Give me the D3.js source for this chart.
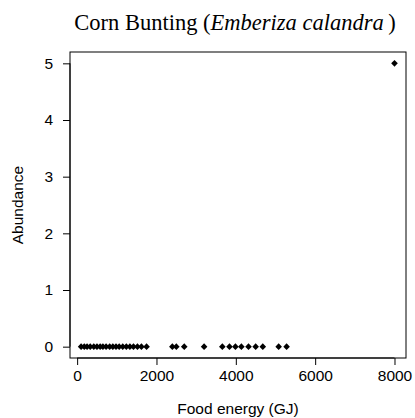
<!DOCTYPE html>
<html>
<head>
<meta charset="utf-8">
<script src="https://cdn.jsdelivr.net/npm/d3@7"></script>
<style>
  html, body { margin: 0; padding: 0; background: #fff; }
  svg { display: block; }
</style>
</head>
<body>
<svg id="chart" width="415" height="418"></svg>
<script>
// Data: food energy (GJ) and abundance
const foodEnergy = [100, 180, 250, 330, 420, 500, 580, 650, 730, 820, 900, 980, 1060, 1150, 1240, 1330, 1420, 1520, 1620, 1750,
                    2400, 2500, 2700, 3200, 3660, 3840, 3990, 4140, 4320, 4500, 4680, 5080, 5280, 8000];
const abundance = [0, 0, 0, 0, 0, 0, 0, 0, 0, 0, 0, 0, 0, 0, 0, 0, 0, 0, 0, 0,
                   0, 0, 0, 0, 0, 0, 0, 0, 0, 0, 0, 0, 0, 5];
const xTicks = [0, 2000, 4000, 6000, 8000];
const yTicks = [0, 1, 2, 3, 4, 5];

const svg = d3.select("#chart");
const mLeft = 70, mRight = 406, mTop = 52, mBottom = 358;
const sans = "Liberation Sans, Arial, sans-serif";

const x = d3.scaleLinear().domain([-180, 8290]).range([mLeft, mRight]);
const y = d3.scaleLinear().domain([-0.2, 5.2]).range([mBottom, mTop]);

// Box
svg.append("rect")
  .attr("x", mLeft).attr("y", mTop)
  .attr("width", mRight - mLeft).attr("height", mBottom - mTop)
  .attr("fill", "none").attr("stroke", "#000").attr("stroke-width", 1);

// X axis
const xAxis = d3.axisBottom(x).tickValues(xTicks).tickSize(7).tickPadding(5).tickFormat(d3.format("d"));
const gx = svg.append("g").attr("transform", `translate(0,${mBottom})`).call(xAxis);
gx.select(".domain").attr("d", `M${x(0)},0H${x(8000)}`);
gx.selectAll("text").attr("font-family", sans).attr("font-size", 15.5).attr("fill", "#000");

// Y axis
const yAxis = d3.axisLeft(y).tickValues(yTicks).tickSize(7).tickPadding(10).tickFormat(d3.format("d"));
const gy = svg.append("g").attr("transform", `translate(${mLeft},0)`).call(yAxis);
gy.select(".domain").attr("d", `M0,${y(0)}V${y(5)}`);
gy.selectAll("text").attr("font-family", sans).attr("font-size", 15.5).attr("fill", "#000");

// Points (filled diamonds)
const pts = foodEnergy.map((d, i) => ({ x: d, y: abundance[i] }));
const r = 3.3;
svg.append("g").selectAll("path").data(pts).join("path")
  .attr("d", d => {
    const cx = x(d.x), cy = y(d.y);
    return `M${cx},${cy - r}L${cx + r},${cy}L${cx},${cy + r}L${cx - r},${cy}Z`;
  })
  .attr("fill", "#000");

// Title
const title = svg.append("text")
  .attr("x", (mLeft + mRight) / 2 - 3).attr("y", 30)
  .attr("text-anchor", "middle")
  .attr("font-family", "Liberation Serif, Times New Roman, serif")
  .attr("font-size", 22.5).attr("fill", "#000");
title.append("tspan").text("Corn Bunting (");
title.append("tspan").attr("font-style", "italic").text("Emberiza calandra");
title.append("tspan").text("\u2009)");

// Axis labels
svg.append("text")
  .attr("x", (mLeft + mRight) / 2).attr("y", 414)
  .attr("text-anchor", "middle")
  .attr("font-family", sans)
  .attr("font-size", 15.5).attr("fill", "#000")
  .text("Food energy (GJ)");

svg.append("text")
  .attr("transform", `translate(23,${(mTop + mBottom) / 2}) rotate(-90)`)
  .attr("text-anchor", "middle")
  .attr("font-family", sans)
  .attr("font-size", 15.5).attr("fill", "#000")
  .text("Abundance");
</script>
</body>
</html>
